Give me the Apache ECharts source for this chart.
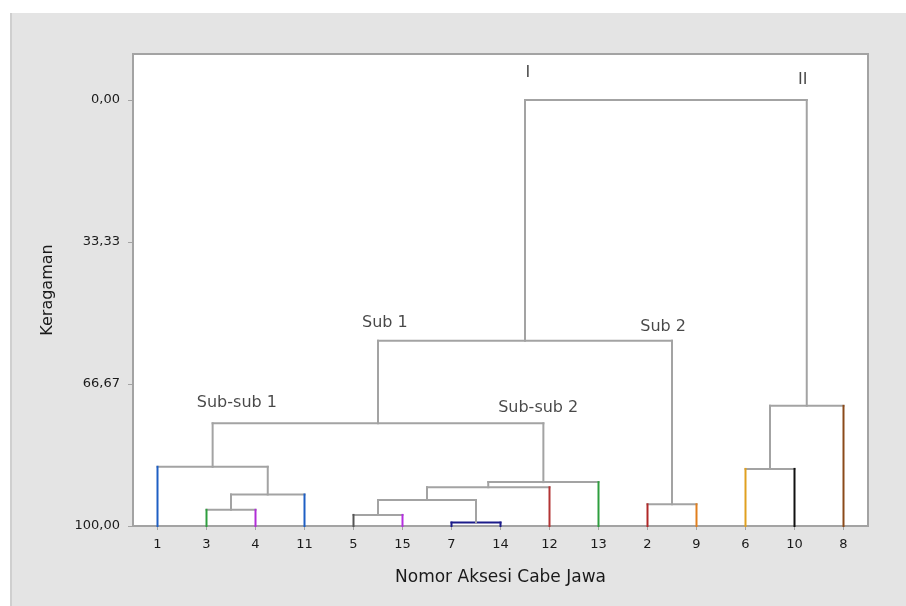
<!DOCTYPE html>
<html>
<head>
<meta charset="utf-8">
<script src="https://cdn.jsdelivr.net/npm/echarts@6/dist/echarts.min.js"></script>
<style>html,body{margin:0;padding:0;background:#fff}#c{width:906px;height:606px}</style>
</head>
<body>
<div id="c"></div>
<script>
// Leaves in dendrogram order (left to right)
const leafLabels = ['1','3','4','11','5','15','7','14','12','13','2','9','6','10','8'];
const leafColors = ['#1e5fc4','#2e9e3e','#b02ed6','#1e5fc4','#555555','#b52ee0','#1c1c8a','#1c1c8a','#b33434','#2e9e3e','#b02828','#e07f1e','#e0a020','#111111','#8b4a1a'];
// Linkage: node ids 0..14 are leaves (by position), internal nodes numbered 15.. in order
const mergeLeft   = [1, 15, 0, 4, 6, 18, 20, 21, 17, 10, 23, 12, 26, 25];
const mergeRight  = [2, 3, 16, 5, 7, 19, 8, 9, 22, 11, 24, 13, 14, 27];
const mergeHeight = [96.2, 92.6, 86.1, 97.4, 99.2, 93.9, 90.9, 89.7, 75.9, 94.9, 56.5, 86.6, 71.8, 0];
const mergeIsLeafGroup = [false,false,false,false,true,false,false,false,false,false,false,false,false,false];
// Y ticks
const yTickValues = [0, 33.33, 66.67, 100];
const yTickLabels = ['0,00','33,33','66,67','100,00'];
// Annotations (x in leaf-position units, y in Keragaman units)
const annoText = ['I','II','Sub 1','Sub 2','Sub-sub 1','Sub-sub 2'];
const annoX = [8.56, 14.17, 5.64, 11.32, 2.62, 8.77];
const annoY = [-6.3, -4.7, 52.3, 53.3, 71.1, 72.3];

const GRAY = '#a3a3a3';
const LEAF_Y = 100;
// Build node positions
const nodeX = leafLabels.map((_, i) => i + 1);
const nodeY = leafLabels.map(() => LEAF_Y);
const segs = [];
for (let k = 0; k < mergeLeft.length; k++) {
  const a = mergeLeft[k], b = mergeRight[k], h = mergeHeight[k];
  const xa = nodeX[a], xb = nodeX[b];
  const colA = a < leafLabels.length ? leafColors[a] : GRAY;
  const colB = b < leafLabels.length ? leafColors[b] : GRAY;
  const colH = mergeIsLeafGroup[k] ? leafColors[a] : GRAY;
  segs.push([xa, h, xb, h, colH]);
  segs.push([xa, nodeY[a], xa, h, colA]);
  segs.push([xb, nodeY[b], xb, h, colB]);
  nodeX.push((xa + xb) / 2);
  nodeY.push(h);
}
const FONT = 'DejaVu Sans';
const TXT = '#1a1a1a';
const chart = echarts.init(document.getElementById('c'));
chart.setOption({
  backgroundColor: '#e4e4e4',
  animation: false,
  graphic: [
    {type:'rect', shape:{x:0,y:0,width:906,height:13}, style:{fill:'#ffffff'}, silent:true},
    {type:'rect', shape:{x:0,y:0,width:10,height:606}, style:{fill:'#ffffff'}, silent:true},
    {type:'line', shape:{x1:11,y1:13,x2:11,y2:606}, style:{stroke:'#cfcfcf',lineWidth:2}, silent:true}
  ],
  grid: {left:133, right:38, top:54, bottom:80, show:true, backgroundColor:'#ffffff', borderColor:GRAY, borderWidth:2},
  xAxis: {
    type:'value', min:0.5, max:15.5,
    name:'Nomor Aksesi Cabe Jawa', nameLocation:'middle', nameGap:43,
    nameTextStyle:{fontFamily:FONT, fontSize:17, color:TXT},
    axisLine:{show:true, onZero:false, lineStyle:{color:GRAY, width:2}},
    axisTick:{show:true, length:4, lineStyle:{color:GRAY}, customValues:leafLabels.map((_, i) => i + 1)},
    axisLabel:{customValues:leafLabels.map((_, i) => i + 1), formatter:v => leafLabels[Math.round(v) - 1], fontFamily:FONT, fontSize:13, color:TXT, margin:12},
    splitLine:{show:false}
  },
  yAxis: {
    type:'value', inverse:true, min:-10.8, max:100,
    name:'Keragaman', nameLocation:'middle', nameGap:77, nameRotate:90,
    nameTextStyle:{fontFamily:FONT, fontSize:16, color:TXT},
    axisLine:{show:true, onZero:false, lineStyle:{color:GRAY, width:2}},
    axisTick:{show:true, length:5, lineStyle:{color:GRAY}, customValues:yTickValues},
    axisLabel:{customValues:yTickValues, formatter:v => yTickLabels[yTickValues.indexOf(v)], fontFamily:FONT, fontSize:13, color:TXT, margin:13},
    splitLine:{show:false}
  },
  series: [
    {
      type:'custom',
      data: segs,
      clip:false,
      renderItem: (params, api) => {
        const p1 = api.coord([api.value(0), api.value(1)]);
        const p2 = api.coord([api.value(2), api.value(3)]);
        const s = segs[params.dataIndex];
        return {type:'line', shape:{x1:p1[0], y1:p1[1], x2:p2[0], y2:p2[1]}, style:{stroke:s[4], lineWidth:2, lineCap:'square'}};
      },
      encode:{x:[0,2], y:[1,3]},
      z: 3
    },
    {
      type:'scatter',
      symbolSize:0,
      data: annoText.map((t, i) => ({value:[annoX[i], annoY[i]], name:t})),
      label:{show:true, position:'inside', formatter:p => p.name, fontFamily:FONT, fontSize:16, color:TXT},
      z: 4
    }
  ]
});
</script>
</body>
</html>
